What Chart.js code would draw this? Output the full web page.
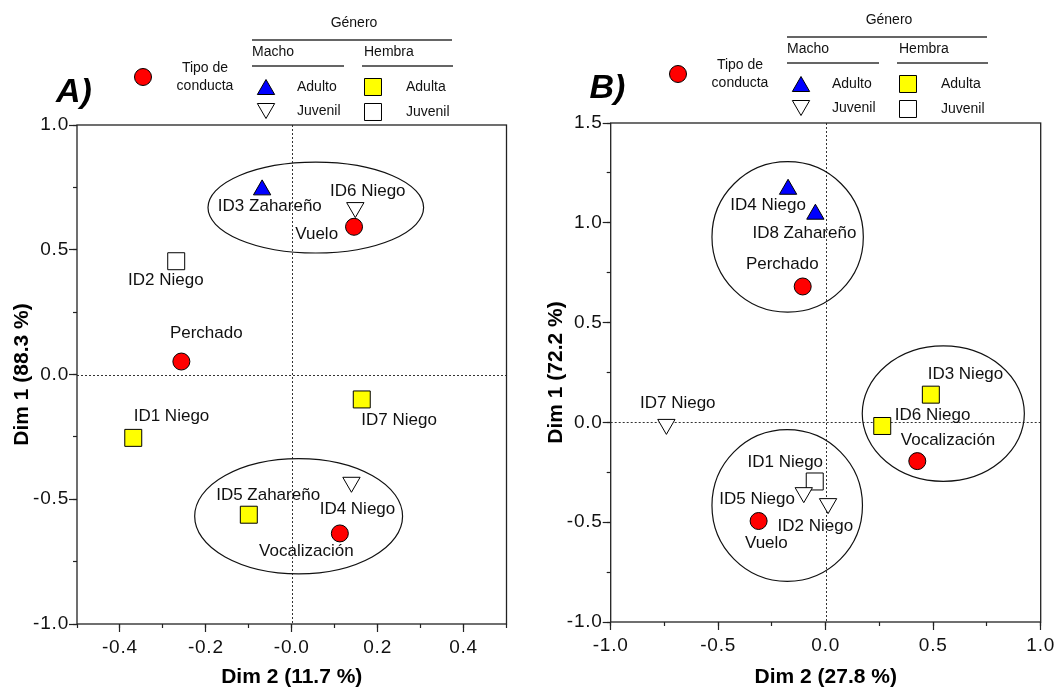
<!DOCTYPE html>
<html>
<head>
<meta charset="utf-8">
<script src="https://cdn.jsdelivr.net/npm/chart.js@4/dist/chart.umd.min.js"></script>
<style>
  body { margin: 0; background: #fff; }
  #wrap { position: relative; width: 1058px; height: 690px; }
  canvas { position: absolute; top: 0; }
</style>
</head>
<body>
<div id="wrap">
  <canvas id="cA" width="529" height="690" style="left:0"></canvas>
  <canvas id="cB" width="529" height="690" style="left:529px"></canvas>
</div>
<script>
// ---------- panel A ----------
var aBehNames = ['Vuelo', 'Perchado', 'Vocalización'];
var aBehX = [0.145, -0.257, 0.112];
var aBehY = [0.592, 0.052, -0.637];
var aBehLabX = [0.058, -0.199, 0.034];
var aBehLabY = [0.561, 0.167, -0.71];

var aMAdNames = ['ID3 Zahareño'];
var aMAdX = [-0.069];
var aMAdY = [0.74];
var aMAdLabX = [-0.051];
var aMAdLabY = [0.674];

var aMJuNames = ['ID6 Niego', 'ID4 Niego'];
var aMJuX = [0.148, 0.139];
var aMJuY = [0.669, -0.432];
var aMJuLabX = [0.177, 0.153];
var aMJuLabY = [0.734, -0.539];

var aFAdNames = ['ID1 Niego', 'ID7 Niego', 'ID5 Zahareño'];
var aFAdX = [-0.369, 0.163, -0.1];
var aFAdY = [-0.254, -0.1, -0.562];
var aFAdLabX = [-0.28, 0.25, -0.055];
var aFAdLabY = [-0.168, -0.183, -0.485];

var aFJuNames = ['ID2 Niego'];
var aFJuX = [-0.269];
var aFJuY = [0.454];
var aFJuLabX = [-0.293];
var aFJuLabY = [0.379];

var aEllCX = [0.056, 0.016];
var aEllCY = [0.669, -0.568];
var aEllRX = [0.251, 0.242];
var aEllRY = [0.182, 0.231];

var aXTicks = [-0.4, -0.2, 0, 0.2, 0.4];
var aXTickLabels = ['-0.4', '-0.2', '-0.0', '0.2', '0.4'];
var aXMinor = [-0.5, -0.4, -0.3, -0.2, -0.1, 0, 0.1, 0.2, 0.3, 0.4, 0.5];
var aYTicks = [-1, -0.5, 0, 0.5, 1];
var aYTickLabels = ['-1.0', '-0.5', '0.0', '0.5', '1.0'];
var aYMinor = [-1, -0.75, -0.5, -0.25, 0, 0.25, 0.5, 0.75, 1];

// ---------- panel B ----------
var bBehNames = ['Perchado', 'Vocalización', 'Vuelo'];
var bBehX = [-0.107, 0.426, -0.312];
var bBehY = [0.681, -0.194, -0.494];
var bBehLabX = [-0.202, 0.569, -0.276];
var bBehLabY = [0.79, -0.091, -0.605];

var bMAdNames = ['ID4 Niego', 'ID8 Zahareño'];
var bMAdX = [-0.175, -0.048];
var bMAdY = [1.168, 1.043];
var bMAdLabX = [-0.268, -0.099];
var bMAdLabY = [1.088, 0.949];

var bMJuNames = ['ID7 Niego', 'ID5 Niego', 'ID2 Niego'];
var bMJuX = [-0.741, -0.102, 0.011];
var bMJuY = [-0.01, -0.352, -0.407];
var bMJuLabX = [-0.688, -0.319, -0.048];
var bMJuLabY = [0.098, -0.387, -0.522];

var bFAdNames = ['ID3 Niego', 'ID6 Niego'];
var bFAdX = [0.489, 0.263];
var bFAdY = [0.139, -0.018];
var bFAdLabX = [0.65, 0.497];
var bFAdLabY = [0.239, 0.037];

var bFJuNames = ['ID1 Niego'];
var bFJuX = [-0.051];
var bFJuY = [-0.296];
var bFJuLabX = [-0.188];
var bFJuLabY = [-0.202];

var bEllCX = [-0.177, 0.547, -0.179];
var bEllCY = [0.929, 0.044, -0.416];
var bEllRX = [0.352, 0.377, 0.35];
var bEllRY = [0.377, 0.339, 0.38];

var bXTicks = [-1, -0.5, 0, 0.5, 1];
var bXTickLabels = ['-1.0', '-0.5', '0.0', '0.5', '1.0'];
var bXMinor = [-1, -0.75, -0.5, -0.25, 0, 0.25, 0.5, 0.75, 1];
var bYTicks = [-1, -0.5, 0, 0.5, 1, 1.5];
var bYTickLabels = ['-1.0', '-0.5', '0.0', '0.5', '1.0', '1.5'];
var bYMinor = [-1, -0.75, -0.5, -0.25, 0, 0.25, 0.5, 0.75, 1, 1.25, 1.5];

var FONT = '"Liberation Sans", Arial, sans-serif';

var STY = {
  beh: { pointStyle: 'circle', radius: 8.5, rotation: 0, fill: '#ff0000' },
  mAd: { pointStyle: 'triangle', radius: 10, rotation: 0, fill: '#0000ff' },
  mJu: { pointStyle: 'triangle', radius: 10, rotation: 180, fill: '#ffffff' },
  fAd: { pointStyle: 'rect', radius: 12, rotation: 0, fill: '#ffff00' },
  fJu: { pointStyle: 'rect', radius: 12, rotation: 0, fill: '#ffffff' }
};

function ds(names, xs, ys, lx, ly, st) {
  return {
    data: xs.map(function (x, i) { return { x: x, y: ys[i] }; }),
    names: names, labX: lx, labY: ly,
    pointStyle: st.pointStyle,
    pointRadius: st.radius,
    pointHoverRadius: st.radius,
    pointRotation: st.rotation,
    pointBackgroundColor: st.fill,
    pointBorderColor: '#000',
    pointBorderWidth: 1,
    showLine: false
  };
}

function legend(ctx, dx, dy, letter, lx, ly) {
  ctx.save();
  ctx.fillStyle = '#000';
  ctx.font = 'italic bold 34px ' + FONT;
  ctx.textAlign = 'center';
  ctx.textBaseline = 'alphabetic';
  ctx.fillText(letter, lx, ly);

  ctx.translate(dx, dy);
  ctx.strokeStyle = '#333';
  ctx.lineWidth = 1.3;
  ctx.beginPath();
  ctx.moveTo(252, 40); ctx.lineTo(452, 40);
  ctx.moveTo(252, 66); ctx.lineTo(344, 66);
  ctx.moveTo(362, 66); ctx.lineTo(453, 66);
  ctx.stroke();

  ctx.fillStyle = '#111';
  ctx.font = '14px ' + FONT;
  ctx.textBaseline = 'middle';
  ctx.textAlign = 'center';
  ctx.fillText('Tipo de', 205, 68);
  ctx.fillText('conducta', 205, 86);
  ctx.fillText('Género', 354, 23);
  ctx.textAlign = 'left';
  ctx.fillText('Macho', 252, 52);
  ctx.fillText('Hembra', 364, 52);
  ctx.fillText('Adulto', 297, 87);
  ctx.fillText('Juvenil', 297, 111);
  ctx.fillText('Adulta', 406, 87);
  ctx.fillText('Juvenil', 406, 112);

  var marks = [[STY.beh, 143, 77], [STY.mAd, 266, 89.5], [STY.mJu, 266, 108.5],
               [STY.fAd, 373, 87], [STY.fJu, 373, 112]];
  marks.forEach(function (m) {
    ctx.fillStyle = m[0].fill;
    ctx.strokeStyle = '#000';
    ctx.lineWidth = 1;
    Chart.helpers.drawPoint(ctx, { pointStyle: m[0].pointStyle, radius: m[0].radius,
      rotation: m[0].rotation, borderWidth: 1 }, m[1], m[2]);
  });
  ctx.restore();
}

var deco = {
  id: 'deco',
  beforeDraw: function (chart) { chart.ctx.letterSpacing = '0px'; },
  beforeDatasetsDraw: function (chart) {
    var o = chart.options.plugins.deco, ctx = chart.ctx, a = chart.chartArea;
    var xs = chart.scales.x, ys = chart.scales.y;
    ctx.save();
    ctx.strokeStyle = '#333';
    ctx.lineWidth = 1;
    ctx.setLineDash([2, 2]);
    ctx.beginPath();
    var x0 = Math.round(xs.getPixelForValue(0)) + 0.5, y0 = Math.round(ys.getPixelForValue(0)) + 0.5;
    ctx.moveTo(x0, a.top); ctx.lineTo(x0, a.bottom);
    ctx.moveTo(a.left, y0); ctx.lineTo(a.right, y0);
    ctx.stroke();
    ctx.setLineDash([]);
    ctx.strokeStyle = '#111';
    ctx.lineWidth = 1.2;
    o.ellCX.forEach(function (cx, i) {
      var px = xs.getPixelForValue(cx), py = ys.getPixelForValue(o.ellCY[i]);
      var rx = Math.abs(xs.getPixelForValue(cx + o.ellRX[i]) - px);
      var ry = Math.abs(ys.getPixelForValue(o.ellCY[i] + o.ellRY[i]) - py);
      ctx.beginPath();
      ctx.ellipse(px, py, rx, ry, 0, 0, Math.PI * 2);
      ctx.stroke();
    });
    ctx.strokeStyle = '#222';
    ctx.lineWidth = 1.3;
    ctx.strokeRect(a.left, a.top, a.right - a.left, a.bottom - a.top);
    ctx.restore();
  },
  afterDatasetsDraw: function (chart) {
    var ctx = chart.ctx, xs = chart.scales.x, ys = chart.scales.y;
    ctx.save();
    ctx.fillStyle = '#111';
    ctx.font = '17px ' + FONT;
    ctx.textAlign = 'center';
    ctx.textBaseline = 'middle';
    chart.data.datasets.forEach(function (d) {
      d.names.forEach(function (n, i) {
        ctx.fillText(n, xs.getPixelForValue(d.labX[i]), ys.getPixelForValue(d.labY[i]));
      });
    });
    ctx.restore();
    ctx.letterSpacing = '0.8px';
  },
  afterDraw: function (chart) {
    var o = chart.options.plugins.deco;
    chart.ctx.letterSpacing = '0px';
    legend(chart.ctx, o.legDX, o.legDY, o.letter, o.letterX, o.letterY);
  }
};

function axis(pos, min, max, ticks, labels, size, title, titlePad) {
  var horiz = pos === 'bottom';
  return {
    type: 'linear', position: pos, min: min, max: max, weight: 1,
    afterBuildTicks: function (s) { s.ticks = ticks.map(function (v) { return { value: v }; }); },
    afterFit: function (s) { if (horiz) s.height = size; else s.width = size; },
    ticks: { z: 1, padding: horiz ? 4 : 0, color: '#111',
      font: { family: FONT, size: 19 },
      callback: function (v, i) { return labels[i]; } },
    grid: { drawOnChartArea: false, drawTicks: true, tickLength: 8, tickColor: '#222', tickWidth: 1.2 },
    border: { display: false },
    title: { display: true, text: title, color: '#000',
      font: { family: FONT, size: 21, weight: 'bold' }, padding: titlePad }
  };
}

function minor(pos, ax, min, max, ticks) {
  return {
    type: 'linear', axis: ax, position: pos, min: min, max: max, weight: 0,
    afterBuildTicks: function (s) { s.ticks = ticks.map(function (v) { return { value: v }; }); },
    afterFit: function (s) { if (pos === 'bottom') s.height = 0; else s.width = 0; },
    ticks: { display: false },
    grid: { drawOnChartArea: false, drawTicks: true, tickLength: 4, tickColor: '#222', tickWidth: 1.2 },
    border: { display: false }
  };
}

function panel(id, datasets, P) {
  return new Chart(document.getElementById(id), {
    type: 'scatter',
    data: { datasets: datasets },
    options: {
      responsive: false, animation: false, events: [],
      layout: { padding: { left: 0, top: P.top, right: P.right, bottom: 0 } },
      scales: {
        x: axis('bottom', P.xMin, P.xMax, P.xTicks, P.xLabels, P.xH, P.xTitle, { top: 0, bottom: 0 }),
        x2: minor('bottom', 'x', P.xMin, P.xMax, P.xMinor),
        y: axis('left', P.yMin, P.yMax, P.yTicks, P.yLabels, P.yW, P.yTitle, { top: P.yTitlePad, bottom: 0 }),
        y2: minor('left', 'y', P.yMin, P.yMax, P.yMinor)
      },
      plugins: {
        legend: { display: false },
        tooltip: { enabled: false },
        deco: { ellCX: P.ellCX, ellCY: P.ellCY, ellRX: P.ellRX, ellRY: P.ellRY,
          legDX: P.legDX, legDY: P.legDY, letter: P.letter, letterX: P.letterX, letterY: P.letterY }
      }
    },
    plugins: [deco]
  });
}

panel('cA', [
  ds(aBehNames, aBehX, aBehY, aBehLabX, aBehLabY, STY.beh),
  ds(aMAdNames, aMAdX, aMAdY, aMAdLabX, aMAdLabY, STY.mAd),
  ds(aMJuNames, aMJuX, aMJuY, aMJuLabX, aMJuLabY, STY.mJu),
  ds(aFAdNames, aFAdX, aFAdY, aFAdLabX, aFAdLabY, STY.fAd),
  ds(aFJuNames, aFJuX, aFJuY, aFJuLabX, aFJuLabY, STY.fJu)
], {
  top: 125, right: 22.5, xH: 66, yW: 77, yTitlePad: 10,
  xMin: -0.5, xMax: 0.5, yMin: -1, yMax: 1,
  xTicks: aXTicks, xLabels: aXTickLabels, xMinor: aXMinor,
  yTicks: aYTicks, yLabels: aYTickLabels, yMinor: aYMinor,
  xTitle: 'Dim 2 (11.7 %)', yTitle: 'Dim 1 (88.3 %)',
  ellCX: aEllCX, ellCY: aEllCY, ellRX: aEllRX, ellRY: aEllRY,
  legDX: 0, legDY: 0, letter: 'A)', letterX: 74, letterY: 101.5
});

panel('cB', [
  ds(bBehNames, bBehX, bBehY, bBehLabX, bBehLabY, STY.beh),
  ds(bMAdNames, bMAdX, bMAdY, bMAdLabX, bMAdLabY, STY.mAd),
  ds(bMJuNames, bMJuX, bMJuY, bMJuLabX, bMJuLabY, STY.mJu),
  ds(bFAdNames, bFAdX, bFAdY, bFAdLabX, bFAdLabY, STY.fAd),
  ds(bFJuNames, bFJuX, bFJuY, bFJuLabX, bFJuLabY, STY.fJu)
], {
  top: 123, right: 17.3, xH: 68, yW: 81.7, yTitlePad: 15,
  xMin: -1, xMax: 1, yMin: -1, yMax: 1.5,
  xTicks: bXTicks, xLabels: bXTickLabels, xMinor: bXMinor,
  yTicks: bYTicks, yLabels: bYTickLabels, yMinor: bYMinor,
  xTitle: 'Dim 2 (27.8 %)', yTitle: 'Dim 1 (72.2 %)',
  ellCX: bEllCX, ellCY: bEllCY, ellRX: bEllRX, ellRY: bEllRY,
  legDX: 6, legDY: -3, letter: 'B)', letterX: 78.5, letterY: 97.5
});
</script>
</body>
</html>
